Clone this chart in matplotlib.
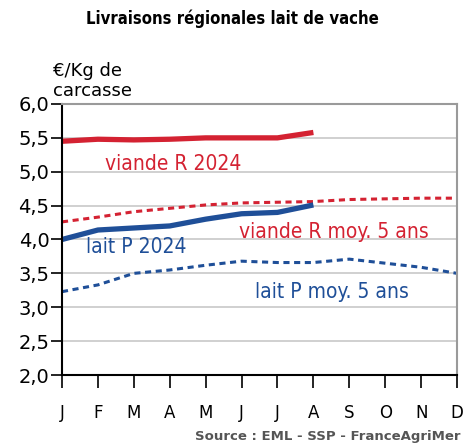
import matplotlib.pyplot as plt

months = ["J", "F", "M", "A", "M", "J", "J", "A", "S", "O", "N", "D"]
viande_2024 = [5.45, 5.48, 5.47, 5.48, 5.50, 5.50, 5.50, 5.58]
viande_moy = [4.26, 4.33, 4.41, 4.46, 4.51, 4.54, 4.55, 4.56, 4.59, 4.60, 4.61, 4.61]
lait_2024 = [4.00, 4.14, 4.17, 4.20, 4.30, 4.38, 4.40, 4.51]
lait_moy = [3.23, 3.33, 3.50, 3.55, 3.62, 3.68, 3.66, 3.66, 3.71, 3.65, 3.59, 3.50]
yticks = [2.0, 2.5, 3.0, 3.5, 4.0, 4.5, 5.0, 5.5, 6.0]

RED = "#d42232"
BLUE = "#1f4f98"

plt.rcParams["font.family"] = ["DejaVu Sans"]

fig = plt.figure(figsize=(4.64, 4.45), dpi=100)
ax = fig.add_axes([0.1336, 0.1573, 0.8514, 0.609])

x_all = range(len(months))
x_24 = range(len(viande_2024))

ax.plot(x_all, viande_moy, color=RED, lw=2.2, ls=(0, (2, 1.5)))
ax.plot(x_all, lait_moy, color=BLUE, lw=2.2, ls=(0, (2, 1.5)))
ax.plot(x_24, viande_2024, color=RED, lw=3.8, solid_capstyle="butt")
ax.plot(x_24, lait_2024, color=BLUE, lw=3.8, solid_capstyle="butt")

ax.set_xlim(0, 11)
ax.set_ylim(2.0, 6.0)
ax.set_yticks(yticks)
ax.set_yticklabels([f"{v:.1f}".replace(".", ",") for v in yticks], fontsize=14)
ax.set_xticks(list(x_all))
ax.set_xticklabels(months, fontsize=12)
ax.tick_params(axis="x", length=9, width=1.2, pad=12, color="black")
ax.tick_params(axis="y", length=8, width=1.2, pad=1, color="black")

ax.grid(axis="y", color="#c8c8c8", lw=1.2)
ax.set_axisbelow(True)
for side in ["top", "right"]:
    ax.spines[side].set_color("#9a9a9a")
    ax.spines[side].set_linewidth(1.5)
for side in ["left", "bottom"]:
    ax.spines[side].set_color("black")
    ax.spines[side].set_linewidth(1.5)

lbl = dict(fontsize=15, fontstretch="condensed", va="baseline")
ax.text(1.2, 5.03, "viande R 2024", color=RED, **lbl)
ax.text(4.93, 4.02, "viande R moy. 5 ans", color=RED, **lbl)
ax.text(0.67, 3.80, "lait P 2024", color=BLUE, **lbl)
ax.text(5.38, 3.13, "lait P moy. 5 ans", color=BLUE, **lbl)

fig.text(0.5, 0.958, "Livraisons régionales lait de vache", ha="center", va="center",
         fontsize=12, fontweight="bold", fontstretch="condensed")
fig.text(0.114, 0.818, "€/Kg de\ncarcasse", ha="left", va="center", fontsize=13,
         linespacing=1.2)
fig.text(0.992, 0.018, "Source : EML - SSP - FranceAgriMer", ha="right", va="center",
         fontsize=9.5, fontweight="bold", color="#555555")

fig.savefig("out.png", dpi=100)
